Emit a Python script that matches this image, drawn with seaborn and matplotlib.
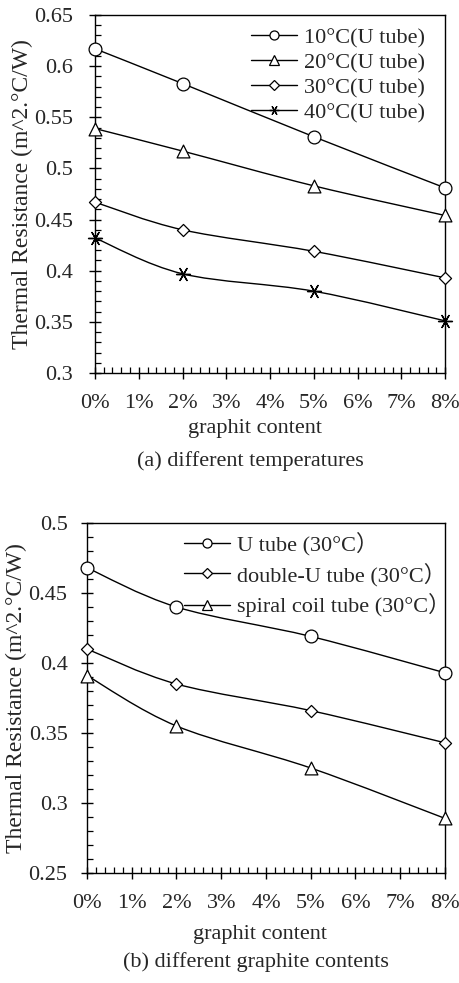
import numpy as np
import pandas as pd
import matplotlib
matplotlib.use("Agg")
import matplotlib.pyplot as plt
import seaborn as sns
from matplotlib.path import Path
from matplotlib.patches import PathPatch
from matplotlib.lines import Line2D
from matplotlib.ticker import MultipleLocator, FixedLocator, FuncFormatter

# ---------------- data ----------------
graphite = [0, 2, 5, 8]  # percent
x_ticks = [0, 1, 2, 3, 4, 5, 6, 7, 8]
x_ticklabels = ["0%", "1%", "2%", "3%", "4%", "5%", "6%", "7%", "8%"]

temp_labels = ["10°C(U tube)", "20°C(U tube)", "30°C(U tube)", "40°C(U tube)"]
r_10 = [0.617, 0.583, 0.531, 0.481]
r_20 = [0.539, 0.517, 0.483, 0.454]
r_30 = [0.467, 0.440, 0.419, 0.393]
r_40 = [0.432, 0.397, 0.380, 0.351]

tube_labels = ["U tube (30°C）", "double-U tube (30°C）", "spiral coil tube (30°C）"]
r_u = [0.468, 0.440, 0.419, 0.393]
r_du = [0.410, 0.385, 0.366, 0.343]
r_sp = [0.391, 0.355, 0.325, 0.289]

ylabel = "Thermal Resistance (m^2.°C/W)"
xlabel = "graphit content"
caption_a = "(a) different temperatures"
caption_b = "(b) different graphite contents"

# ---------------- style ----------------
sns.set_style("ticks")
FAM = ["Liberation Serif", "Noto Sans CJK SC", "DejaVu Sans"]
plt.rcParams["font.family"] = FAM
plt.rcParams["axes.linewidth"] = 1.0
FS = 16

W, H = 460, 983
fig = plt.figure(figsize=(W / 100, H / 100), dpi=100)
fig.patch.set_facecolor("white")


def rect(l, t, r, b):
    return [l / W, 1 - b / H, (r - l) / W, (b - t) / H]


ax1 = fig.add_axes(rect(95, 15, 445, 373))
ax2 = fig.add_axes(rect(87, 523, 445, 873))


def smooth_path(xs, ys):
    pts = np.column_stack([np.asarray(xs, float), np.asarray(ys, float)])
    n = len(pts)
    verts = [pts[0]]
    codes = [Path.MOVETO]
    for i in range(n - 1):
        p0 = pts[i - 1] if i > 0 else pts[i]
        p1 = pts[i]
        p2 = pts[i + 1]
        p3 = pts[i + 2] if i + 2 < n else pts[i + 1]
        c1 = p1 + (p2 - p0) / 6.0
        c2 = p2 - (p3 - p1) / 6.0
        verts += [c1, c2, p2]
        codes += [Path.CURVE4] * 3
    return Path(verts, codes)


ASTER = (6, 2, 90)
MARKER_SIZES = {"o": 85, "^": 85, "D": 38, ASTER: 100}


def draw_series(ax, ys, marker, label):
    ax.add_patch(PathPatch(smooth_path(graphite, ys), fill=False,
                           edgecolor="black", lw=1.0, zorder=2))
    df = pd.DataFrame({"x": graphite, "y": ys})
    if marker == ASTER:
        sns.scatterplot(data=df, x="x", y="y", marker=marker, s=MARKER_SIZES[marker],
                        color="black", linewidth=1.0, ax=ax, zorder=3, legend=False,
                        clip_on=False)
    else:
        sns.scatterplot(data=df, x="x", y="y", marker=marker, s=MARKER_SIZES[marker],
                        facecolor="white", edgecolor="black", linewidth=0.9,
                        ax=ax, zorder=3, legend=False, clip_on=False)


def legend_handle(marker, label):
    if marker == ASTER:
        return Line2D([], [], color="black", lw=1.0, marker=marker, markersize=7,
                      markeredgewidth=0.9, label=label)
    ms = 4.8 if marker == "D" else 6.5
    return Line2D([], [], color="black", lw=1.0, marker=marker, markersize=ms,
                  markerfacecolor="white", markeredgecolor="black",
                  markeredgewidth=0.9, label=label)


def style_axes(ax, ylim, ymaj, pad_y, label_x):
    ax.set_xlim(0, 8)
    ax.set_ylim(*ylim)
    ax.xaxis.set_major_locator(FixedLocator(x_ticks))
    ax.set_xticklabels(x_ticklabels)
    ax.xaxis.set_minor_locator(MultipleLocator(0.2))
    ax.yaxis.set_major_locator(MultipleLocator(ymaj))
    ax.yaxis.set_minor_locator(MultipleLocator(0.01))
    ax.yaxis.set_major_formatter(FuncFormatter(lambda v, p: f"{v:g}"))
    ax.tick_params(axis="both", which="major", direction="inout", length=8,
                   width=1.0, labelsize=FS, color="black")
    ax.tick_params(axis="both", which="minor", direction="in", length=4,
                   width=0.9, color="black")
    ax.tick_params(axis="x", which="major", pad=11)
    ax.tick_params(axis="y", which="major", pad=pad_y)
    ax.set_xlabel("")
    ax.set_ylabel(ylabel, fontsize=17, family=FAM)
    ax.yaxis.set_label_coords(label_x, 0.5)
    for s in ax.spines.values():
        s.set_visible(True)
        s.set_color("black")
        s.set_linewidth(1.0)
    for lab in ax.get_xticklabels() + ax.get_yticklabels():
        lab.set_family(FAM)


# ---------------- panel (a) ----------------
series_a = [r_10, r_20, r_30, r_40]
markers_a = ["o", "^", "D", ASTER]
for ys, m, lab in zip(series_a, markers_a, temp_labels):
    draw_series(ax1, ys, m, lab)
style_axes(ax1, (0.3, 0.65), 0.05, 12, -0.177)
ax1.legend(handles=[legend_handle(m, l) for m, l in zip(markers_a, temp_labels)],
           loc="upper left", bbox_to_anchor=(0.445, 0.965), frameon=False,
           handlelength=2.1, handletextpad=0.3, labelspacing=0.2,
           borderpad=0, borderaxespad=0, prop={"family": FAM, "size": FS})

# ---------------- panel (b) ----------------
series_b = [r_u, r_du, r_sp]
markers_b = ["o", "D", "^"]
for ys, m, lab in zip(series_b, markers_b, tube_labels):
    draw_series(ax2, ys, m, lab)
style_axes(ax2, (0.25, 0.5), 0.05, 10, -0.168)
ax2.legend(handles=[legend_handle(m, l) for m, l in zip(markers_b, tube_labels)],
           loc="upper left", bbox_to_anchor=(0.27, 0.975), frameon=False,
           handlelength=2.1, handletextpad=0.3, labelspacing=0.33,
           borderpad=0, borderaxespad=0, prop={"family": FAM, "size": FS})

# ---------------- x labels and captions ----------------
fig.text(255 / W, 1 - 428 / H, xlabel, ha="center", va="center", fontsize=FS, family=FAM)
fig.text(250 / W, 1 - 461 / H, caption_a, ha="center", va="center", fontsize=FS, family=FAM)
fig.text(260 / W, 1 - 935 / H, xlabel, ha="center", va="center", fontsize=FS, family=FAM)
fig.text(256 / W, 1 - 962 / H, caption_b, ha="center", va="center", fontsize=FS, family=FAM)

fig.savefig("out.png", dpi=100, facecolor="white")
